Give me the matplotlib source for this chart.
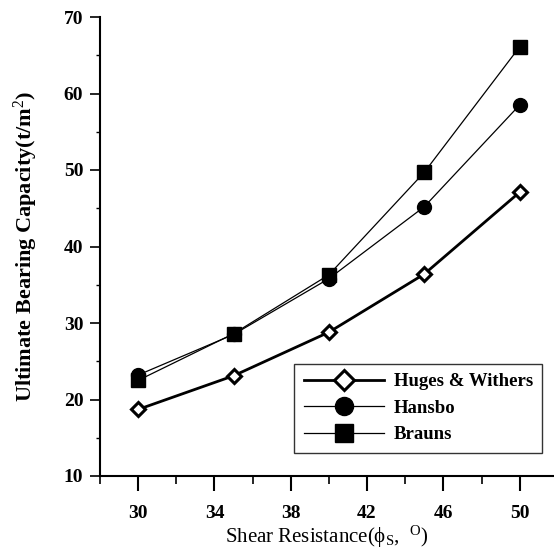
import matplotlib
matplotlib.use("Agg")
import matplotlib.pyplot as plt
from matplotlib.ticker import MultipleLocator

# ── Data ─────────────────────────────────────────────────────────────────────
phi = [30, 35, 40, 45, 50]
huges_withers = [18.7, 23.1, 28.8, 36.4, 47.1]
hansbo = [23.2, 28.5, 35.8, 45.2, 58.5]
brauns = [22.5, 28.6, 36.3, 49.7, 66.1]

x_ticks = [30, 34, 38, 42, 46, 50]
y_ticks = [10, 20, 30, 40, 50, 60, 70]

plt.rcParams["font.family"] = ["Liberation Serif", "DejaVu Serif"]
plt.rcParams["mathtext.fontset"] = "custom"
plt.rcParams["mathtext.rm"] = "Liberation Serif"
plt.rcParams["mathtext.it"] = "Liberation Serif:italic"

fig = plt.figure(figsize=(5.54, 5.49), dpi=100)
ax = fig.add_axes([100 / 554, 73 / 549, 454 / 554, 459 / 549])

ax.plot(phi, huges_withers, color="black", lw=2.0, marker="D", ms=7.5,
        mfc="white", mec="black", mew=2.2, label="Huges & Withers")
ax.plot(phi, hansbo, color="black", lw=0.9, marker="o", ms=10,
        mfc="black", mec="black", label="Hansbo")
ax.plot(phi, brauns, color="black", lw=0.9, marker="s", ms=9.5,
        mfc="black", mec="black", label="Brauns")

ax.set_xlim(28, 51.8)
ax.set_ylim(10, 70)
ax.set_xticks(x_ticks)
ax.set_yticks(y_ticks)
ax.xaxis.set_minor_locator(MultipleLocator(2))
ax.yaxis.set_minor_locator(MultipleLocator(5))

ax.spines[["top", "right"]].set_visible(False)
ax.spines["left"].set_linewidth(1.5)
ax.spines["bottom"].set_linewidth(1.5)

ax.tick_params(axis="x", which="major", direction="out", length=11, width=1.5, pad=10)
ax.tick_params(axis="x", which="minor", direction="out", length=6, width=1.2)
ax.tick_params(axis="y", which="major", direction="out", length=7, width=1.2, pad=5)
ax.tick_params(axis="y", which="minor", direction="out", length=3, width=1.0)
for lbl in ax.get_xticklabels() + ax.get_yticklabels():
    lbl.set_fontweight("bold")
    lbl.set_fontsize(14)

ax.set_ylabel("Ultimate Bearing Capacity(t/m$^2$)", fontsize=16,
              fontweight="bold", labelpad=17)
ax.set_xlabel("Shear Resistance(ϕ$_{\\rm S}$,  $^{\\rm O}$)", fontsize=15,
              labelpad=1)

leg = ax.legend(loc="lower right", bbox_to_anchor=(0.995, 0.03), fontsize=13.5,
                frameon=True, fancybox=False, edgecolor="black",
                handlelength=4.3, markerscale=1.3, borderpad=0.5,
                labelspacing=0.5, handletextpad=0.5)
leg.get_frame().set_linewidth(1.0)
for t in leg.get_texts():
    t.set_fontweight("bold")

fig.savefig("out.png", dpi=100)
